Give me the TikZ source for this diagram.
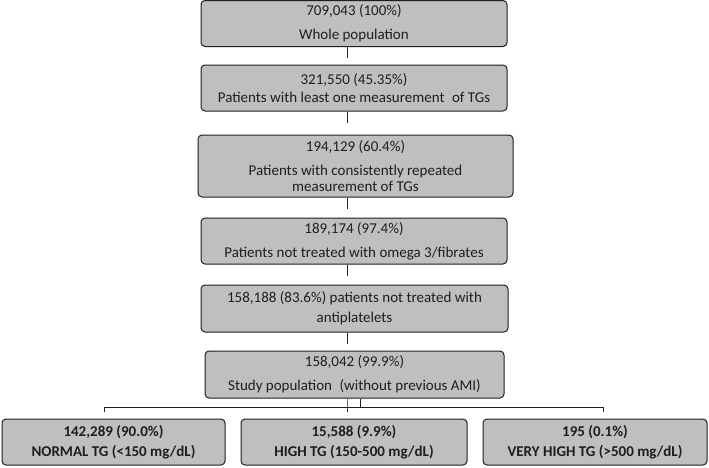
\documentclass[tikz,border=0pt]{standalone}
\usepackage{fontspec}
\setmainfont{Carlito}
\definecolor{boxgray}{RGB}{191,191,191}
\definecolor{inkgray}{RGB}{30,30,30}
\tikzset{
  stagebox/.style={draw=inkgray,fill=boxgray,rounded corners=4pt,line width=1pt,
    inner sep=2pt,align=center,text=inkgray,minimum height=46pt,
    font=\fontsize{15}{16}\selectfont},
  groupbox/.style={stagebox,minimum width=224pt,font=\fontsize{15}{16}\selectfont\bfseries},
  link/.style={draw=inkgray,line width=0.9pt}
}
\begin{document}
\begin{tikzpicture}[x=1pt,y=-1pt]
    \useasboundingbox (0,0) rectangle (709,467);
    % main column
    \node[stagebox,minimum width=306pt] (whole) at (354,23.5) {709,043 (100\%)\\[8pt]Whole population};
    \node[stagebox,minimum width=306pt] (onemeas) at (354,88) {321,550 (45.35\%)\\[2pt]Patients with least one measurement\hspace{0.5em}of TGs};
    \node[stagebox,minimum width=315pt,minimum height=62pt] (repeated) at (355.5,166) {194,129 (60.4\%)\\[8pt]Patients with consistently repeated\\measurement of TGs};
    \node[stagebox,minimum width=306pt] (noomega) at (354,241) {189,174 (97.4\%)\\[8pt]Patients not treated with omega 3/fibrates};
    \node[stagebox,minimum width=307pt,minimum height=47pt] (noantipl) at (354.5,308.5) {158,188 (83.6\%) patients not treated with\\[4pt]antiplatelets};
    \node[stagebox,minimum width=299pt,minimum height=47pt] (study) at (354.5,374.5) {158,042 (99.9\%)\\[8pt]Study population\hspace{0.5em}(without previous AMI)};
    % TG groups
    \node[groupbox,minimum width=223pt] (normal) at (113.5,442) {142,289 (90.0\%)\\[4pt]NORMAL TG (<150 mg/dL)};
    \node[groupbox,minimum width=226pt] (high) at (354,442) {15,588 (9.9\%)\\[4pt]HIGH TG (150-500 mg/dL)};
    \node[groupbox] (veryhigh) at (595,442) {195 (0.1\%)\\[4pt]VERY HIGH TG (>500 mg/dL)};
    % connectors
    \coordinate (spine) at (347,0);
    \foreach \n in {whole,onemeas,repeated,noomega,noantipl}
      \draw[link] (\n.south -| spine) -- ++(0,11);
    \coordinate (bar) at (0,407);
    \draw[link] (study.south -| spine) -- (bar -| spine) -- ++(0,5);
    \draw[link] ([xshift=5.5pt]study.south) -- ([xshift=5.5pt]bar -| study.south);
    \draw[link] ([yshift=-5pt]bar -| 104,0) -- (bar -| 104,0) -- (bar -| 603,0) -- ++(0,5);
\end{tikzpicture}
\end{document}
